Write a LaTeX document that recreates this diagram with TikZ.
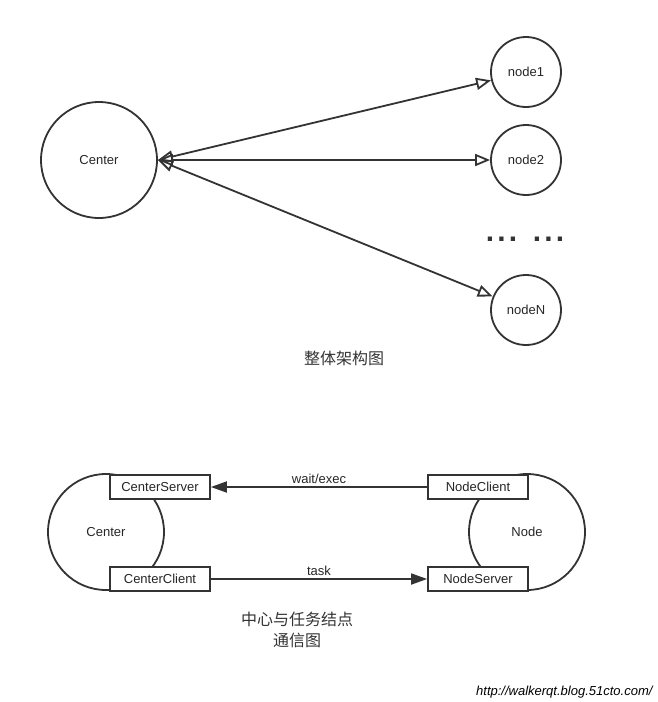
\documentclass[tikz,border=0pt]{standalone}
\usepackage{fontspec}
\setmainfont{Liberation Sans}
\newfontfamily\cjk{Noto Sans CJK SC}
\usetikzlibrary{arrows.meta}
\tikzset{
  bigcircle/.style={draw, circle, line width=1.8pt, minimum size=116pt, inner sep=0pt},
  smallcircle/.style={draw, circle, line width=1.8pt, minimum size=70pt, inner sep=0pt},
  portbox/.style={draw, fill=white, line width=1.8pt, minimum width=100pt, minimum height=24pt, inner sep=0pt},
  openlink/.style={line width=1.8pt, {Triangle[open, length=15pt, width=12pt]}-{Triangle[open, length=15pt, width=12pt]}},
  msglink/.style={line width=1.8pt, -{Triangle[length=16pt, width=11pt]}},
  lbl/.style={font=\fontsize{13}{15}\selectfont, text=black!85}
}
\begin{document}
\begin{tikzpicture}[x=1pt, y=-1pt, color=black!80]
        \useasboundingbox (0,0) rectangle (658,702);

        % Overall architecture
        \node[bigcircle, lbl] (center) at (99,160) {Center};
        \node[smallcircle, lbl] (n1) at (526,72) {node1};
        \node[smallcircle, lbl] (n2) at (526,160) {node2};
        \node[smallcircle, lbl] (nN) at (526,310) {nodeN};
        \node[anchor=base, font=\fontsize{30}{32}\selectfont\bfseries, inner sep=0pt] (dots) at (525,241)
            {.\hspace{3.2pt}.\hspace{3.2pt}.\hspace{15.5pt}.\hspace{3.2pt}.\hspace{3.2pt}.};

        \draw[openlink] (center.east) -- (n1);
        \draw[openlink] (center.east) -- (n2);
        \draw[openlink] (center.east) -- (nN);

        \node[font=\cjk\fontsize{16}{18}\selectfont] (cap1) at (344,358) {整体架构图};

        % Center and task node communication
        \node[bigcircle, lbl] (cbig) at (106,532) {Center};
        \node[bigcircle, lbl] (nbig) at (527,532) {Node};
        \node[portbox, lbl] (cserver) at (160,487) {CenterServer};
        \node[portbox, lbl] (cclient) at (160,579) {CenterClient};
        \node[portbox, lbl] (nclient) at (478,487) {NodeClient};
        \node[portbox, lbl] (nserver) at (478,579) {NodeServer};

        \draw[msglink] (nclient) -- node[lbl, above, inner sep=2pt] {wait/exec} (cserver);
        \draw[msglink] (cclient) -- node[lbl, above, inner sep=2pt] {task} (nserver);

        \node[font=\cjk\fontsize{16}{21}\selectfont, align=center] (cap2) at (297,630) {中心与任务结点\\通信图};

        \node[anchor=east, font=\fontsize{13}{15}\selectfont\itshape, text=black] (url) at (656,692) {http://walkerqt.blog.51cto.com/};
\end{tikzpicture}
\end{document}
